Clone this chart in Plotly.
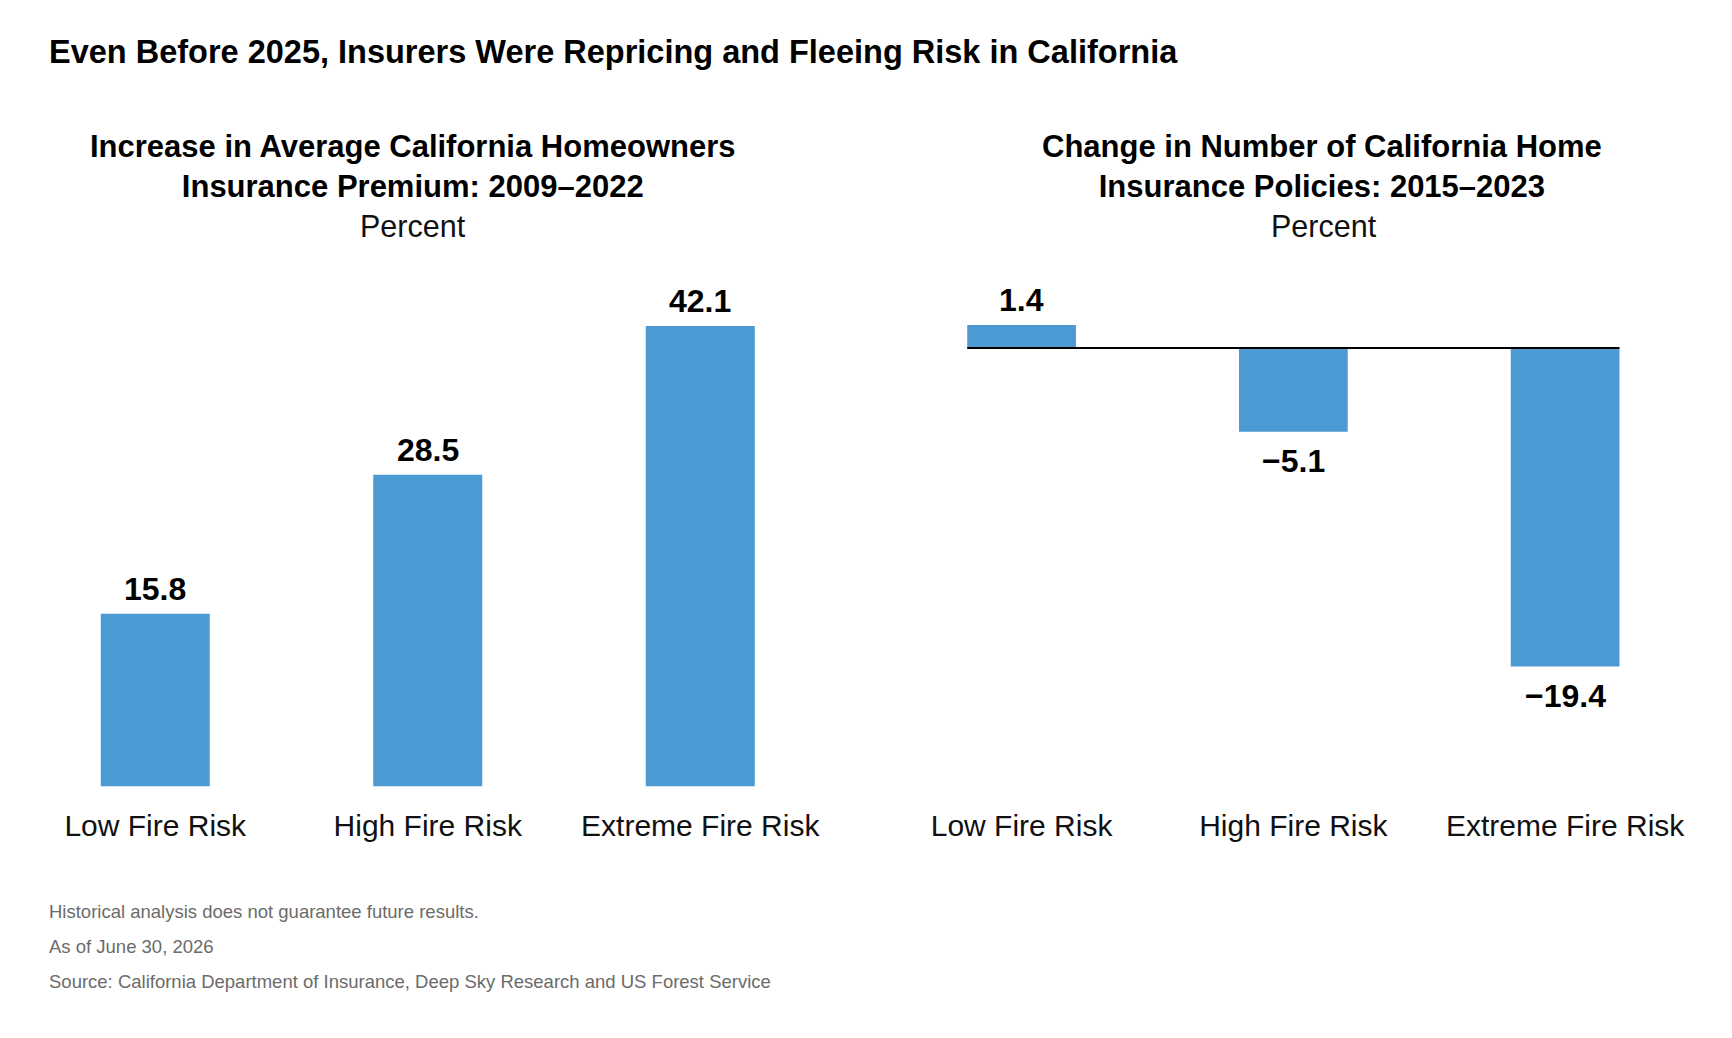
import plotly.graph_objects as go

categories = ["Low Fire Risk", "High Fire Risk", "Extreme Fire Risk"]
premium_increase = [15.8, 28.5, 42.1]
policy_change = [1.4, -5.1, -19.4]

title = "Even Before 2025, Insurers Were Repricing and Fleeing Risk in California"
left_title = "Increase in Average California Homeowners<br>Insurance Premium: 2009\u20132022"
right_title = "Change in Number of California Home<br>Insurance Policies: 2015\u20132023"
unit = "Percent"
footnotes = [
    "Historical analysis does not guarantee future results.",
    "As of June 30, 2026",
    "Source: California Department of Insurance, Deep Sky Research and US Forest Service",
]

BAR = "#4B9AD3"
W, H = 1732, 1038
REG = "Liberation Sans, Arial, sans-serif"


def fmt(v):
    return f"{v:.1f}".replace("-", "\u2212")


fig = go.Figure()
fig.add_trace(go.Bar(
    x=categories, y=premium_increase, xaxis="x", yaxis="y",
    marker=dict(color=BAR, line=dict(width=0)), hoverinfo="skip",
))
fig.add_trace(go.Bar(
    x=categories, y=policy_change, xaxis="x2", yaxis="y2",
    marker=dict(color=BAR, line=dict(width=0)), hoverinfo="skip",
))

ybot = (H - 786.5) / H
ytop = (H - 280) / H
tickfont = dict(family=REG, size=30, color="#111")

fig.update_layout(
    width=W, height=H,
    margin=dict(l=0, r=0, t=0, b=0),
    paper_bgcolor="white", plot_bgcolor="white",
    showlegend=False, bargap=0.6,
    xaxis=dict(domain=[19 / W, 836.5 / W], range=[-0.5, 2.5], showgrid=False, zeroline=False,
               showline=False, ticks="", tickfont=tickfont,
               ticklabelstandoff=18, fixedrange=True),
    yaxis=dict(domain=[ybot, ytop], range=[0, 506.5 / 10.94], visible=False, fixedrange=True),
    xaxis2=dict(domain=[885.7 / W, 1701 / W], range=[-0.5, 2.5], showgrid=False, zeroline=False,
                showline=False, ticks="", tickfont=tickfont,
                ticklabelstandoff=18, anchor="y2", fixedrange=True),
    yaxis2=dict(domain=[ybot, ytop], range=[-(786.5 - 348) / 16.42, (348 - 280) / 16.42],
                visible=False, anchor="x2", fixedrange=True),
)

# zero line on the right panel, spanning the bars
fig.add_shape(type="line", xref="x2", yref="y2", x0=-0.2, x1=2.2, y0=0, y1=0,
              line=dict(color="#000", width=2), layer="above")

annotations = []
valfont = dict(family=REG, size=32, color="#000", weight="bold")
for xr, yr, vals in (("x", "y", premium_increase), ("x2", "y2", policy_change)):
    for c, v in zip(categories, vals):
        annotations.append(dict(text=fmt(v), x=c, y=v, xref=xr, yref=yr,
                                xanchor="center", yanchor="middle",
                                yshift=25 if v >= 0 else -29, font=valfont, showarrow=False))

paper = [
    dict(text=title, x=47 / W, y=1 - 52 / H, xanchor="left", yanchor="middle",
         font=dict(family=REG, size=32.5, color="#000", weight="bold")),
    dict(text=left_title, x=413 / W, y=1 - 166 / H, xanchor="center", yanchor="middle",
         font=dict(family=REG, size=31, color="#000", weight="bold")),
    dict(text=unit, x=413 / W, y=1 - 226 / H, xanchor="center", yanchor="middle",
         font=dict(family=REG, size=30.5, color="#111")),
    dict(text=right_title, x=1322 / W, y=1 - 166 / H, xanchor="center", yanchor="middle",
         font=dict(family=REG, size=31, color="#000", weight="bold")),
    dict(text=unit, x=1324 / W, y=1 - 226 / H, xanchor="center", yanchor="middle",
         font=dict(family=REG, size=30.5, color="#111")),
]
for t, yy in zip(footnotes, [911, 946.6, 981]):
    paper.append(dict(text=t, x=47 / W, y=1 - yy / H, xanchor="left", yanchor="middle",
                      font=dict(family=REG, size=18.5, color="#6b6b6b")))
for a in paper:
    a.update(xref="paper", yref="paper", showarrow=False)
fig.update_layout(annotations=annotations + paper)

fig.write_html("out.html")
